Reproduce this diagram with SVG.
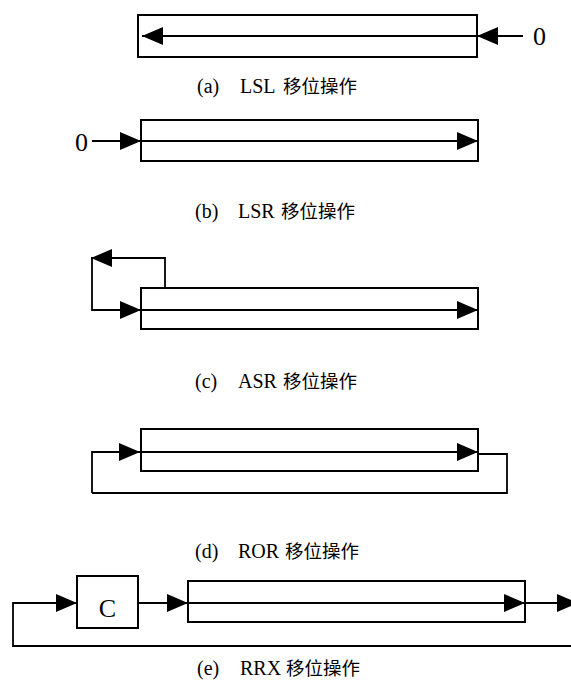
<svg xmlns="http://www.w3.org/2000/svg" width="571" height="680" viewBox="0 0 571 680">
<defs>
<style>
.box{fill:#fff;stroke:#000;stroke-width:2}
.ln{fill:none;stroke:#000;stroke-width:1.8}
.arr{marker-end:url(#ah)}
.cap{font-family:"Liberation Serif","Noto Sans CJK SC",serif;font-size:20px;fill:#000}
.cjk{font-family:"Noto Sans CJK SC","Liberation Serif",sans-serif;font-size:18.5px}
.big{font-family:"Liberation Serif",serif;font-size:26px;fill:#000}
</style>
<marker id="ah" markerUnits="userSpaceOnUse" markerWidth="22" markerHeight="20" refX="21" refY="9" orient="auto" overflow="visible">
<path d="M0,0 L21,9 L0,18 Z" fill="#000"/>
</marker>
</defs>
<rect width="571" height="680" fill="#fff"/>
<g id="nodes">
<g id="reg-a"><rect class="box" x="138" y="15" width="339" height="42"/></g>
<g id="reg-b"><rect class="box" x="141" y="120" width="337" height="41"/></g>
<g id="reg-c"><rect class="box" x="141" y="288" width="337" height="41"/></g>
<g id="reg-d"><rect class="box" x="141" y="429" width="337" height="42"/></g>
<g id="carry"><rect class="box" x="77" y="576" width="61" height="52"/><text class="big" x="107.5" y="617" font-size="28" text-anchor="middle">C</text></g>
<g id="reg-e"><rect class="box" x="188" y="581" width="337" height="41"/></g>
</g>
<g id="connectors">
<line class="ln arr" x1="523" y1="36" x2="477" y2="36"/>
<line class="ln arr" x1="477" y1="36" x2="142" y2="36"/>
<line class="ln arr" x1="92" y1="141" x2="141" y2="141"/>
<line class="ln arr" x1="141" y1="141" x2="478" y2="141"/>
<polyline class="ln arr" points="165,288 165,258 91,258"/>
<polyline class="ln arr" points="92,258 92,310 141,310"/>
<line class="ln arr" x1="141" y1="310" x2="478" y2="310"/>
<polyline class="ln arr" points="92,493 92,452 140,452"/>
<line class="ln arr" x1="140" y1="452" x2="478" y2="452"/>
<polyline class="ln" points="478,454 507,454 507,493 92,493"/>
<polyline class="ln arr" points="571,646 13,646 13,603 77,603"/>
<line class="ln arr" x1="138" y1="603" x2="188" y2="603"/>
<line class="ln arr" x1="188" y1="603" x2="525" y2="603"/>
<line class="ln arr" x1="525" y1="603" x2="578" y2="603"/>
</g>
<g id="labels">
<text class="big" x="533" y="45">0</text>
<text class="big" x="75" y="151">0</text>
<text class="cap" y="93"><tspan x="197">(a)</tspan><tspan x="240">LSL</tspan><tspan class="cjk" x="283">移位操作</tspan></text>
<text class="cap" y="218"><tspan x="195">(b)</tspan><tspan x="238">LSR</tspan><tspan class="cjk" x="281">移位操作</tspan></text>
<text class="cap" y="388"><tspan x="195">(c)</tspan><tspan x="238">ASR</tspan><tspan class="cjk" x="283">移位操作</tspan></text>
<text class="cap" y="558"><tspan x="195">(d)</tspan><tspan x="238">ROR</tspan><tspan class="cjk" x="285">移位操作</tspan></text>
<text class="cap" y="675"><tspan x="197">(e)</tspan><tspan x="240">RRX</tspan><tspan class="cjk" x="286">移位操作</tspan></text>
</g>
</svg>
